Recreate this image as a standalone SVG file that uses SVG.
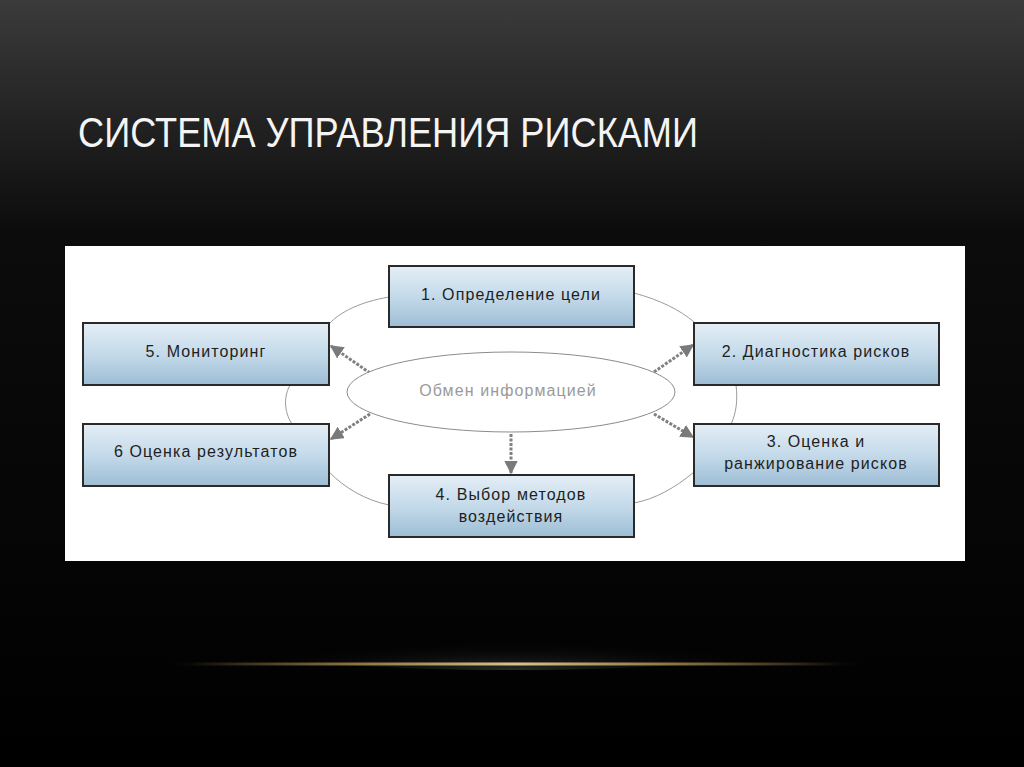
<svg xmlns="http://www.w3.org/2000/svg" width="1024" height="767" viewBox="0 0 1024 767">
<defs>
<linearGradient id="bg" x1="0" y1="0" x2="0" y2="1">
<stop offset="0" stop-color="#3b3b3b"/>
<stop offset="0.3" stop-color="#0c0c0c"/>
<stop offset="1" stop-color="#000"/>
</linearGradient>
<linearGradient id="box" x1="0" y1="0" x2="0" y2="1">
<stop offset="0" stop-color="#e4eef5"/>
<stop offset="0.5" stop-color="#c4daea"/>
<stop offset="1" stop-color="#9dbdd4"/>
</linearGradient>
<linearGradient id="gold" x1="0" y1="0" x2="1" y2="0">
<stop offset="0" stop-color="#8a7440" stop-opacity="0"/>
<stop offset="0.25" stop-color="#9a8046" stop-opacity="0.8"/>
<stop offset="0.5" stop-color="#d8c48a"/>
<stop offset="0.75" stop-color="#9a8046" stop-opacity="0.8"/>
<stop offset="1" stop-color="#8a7440" stop-opacity="0"/>
</linearGradient>
<radialGradient id="glow" cx="0.5" cy="1" r="0.5">
<stop offset="0" stop-color="#2a2a2a"/>
<stop offset="1" stop-color="#000" stop-opacity="0"/>
</radialGradient>
<marker id="ah" viewBox="0 0 10 10" refX="9" refY="5" markerWidth="4.5" markerHeight="4.5" orient="auto">
<path d="M0,0 L10,5 L0,10 z" fill="#7a7a7a"/>
</marker>
<style>
.box{fill:url(#box);stroke:#2a2a2a;stroke-width:2}
.lbl{font-family:"Liberation Sans",Arial,sans-serif;font-size:16px;letter-spacing:1.1px;fill:#1e1e1e;text-anchor:middle}
.ring{fill:none;stroke:#9a9a9a;stroke-width:1}
.arr{fill:none;stroke:#808080;stroke-width:3;stroke-dasharray:3 1.5;marker-end:url(#ah)}
</style>
</defs>
<rect width="1024" height="767" fill="url(#bg)"/>
<ellipse cx="512" cy="640" rx="300" ry="30" fill="url(#glow)"/>
<rect x="170" y="662" width="690" height="4" fill="url(#gold)" opacity="0.5"/>
<rect x="190" y="663" width="650" height="2" fill="url(#gold)"/>
<text x="78" y="147" font-family="'Liberation Sans Narrow','Liberation Sans',Arial,sans-serif" font-size="43" fill="#f4f4f4" textLength="620" lengthAdjust="spacingAndGlyphs">СИСТЕМА УПРАВЛЕНИЯ РИСКАМИ</text>
<rect x="65" y="246" width="900" height="315" fill="#ffffff"/>
<g id="connectors">
<path class="ring" d="M389,297 C360,302 340,312 329,324"/>
<path class="ring" d="M634,293 C660,300 680,310 694,322"/>
<path class="ring" d="M290,385 C282,400 286,415 292,424"/>
<path class="ring" d="M736,385 C738,400 736,414 731,424"/>
<path class="ring" d="M329,472 C345,488 365,500 389,505"/>
<path class="ring" d="M694,472 C675,488 655,499 634,503"/>
<path class="arr" d="M370,373 L331,346"/>
<path class="arr" d="M370,414 L331,439"/>
<path class="arr" d="M654,372 L693,345"/>
<path class="arr" d="M654,414 L693,437"/>
<path class="arr" d="M511,434 L511,473"/>
</g>
<g id="center">
<ellipse cx="511" cy="392" rx="164" ry="40" fill="#ffffff" stroke="#8c8c8c" stroke-width="1"/>
<text x="508" y="396" font-family="'Liberation Sans',Arial,sans-serif" font-size="16" letter-spacing="1.1" fill="#9a9a9a" text-anchor="middle">Обмен информацией</text>
</g>
<g id="n1"><rect class="box" x="389" y="266" width="245" height="61"/><text class="lbl" x="511" y="300">1. Определение цели</text></g>
<g id="n2"><rect class="box" x="694" y="323" width="245" height="62"/><text class="lbl" x="816" y="357">2. Диагностика рисков</text></g>
<g id="n3"><rect class="box" x="694" y="424" width="245" height="62"/><text class="lbl" x="816" y="447">3. Оценка и</text><text class="lbl" x="816" y="469">ранжирование рисков</text></g>
<g id="n4"><rect class="box" x="389" y="475" width="245" height="62"/><text class="lbl" x="511" y="500">4. Выбор методов</text><text class="lbl" x="511" y="522">воздействия</text></g>
<g id="n5"><rect class="box" x="83" y="323" width="246" height="62"/><text class="lbl" x="206" y="357">5. Мониторинг</text></g>
<g id="n6"><rect class="box" x="83" y="424" width="246" height="62"/><text class="lbl" x="206" y="457">6 Оценка результатов</text></g>
</svg>
